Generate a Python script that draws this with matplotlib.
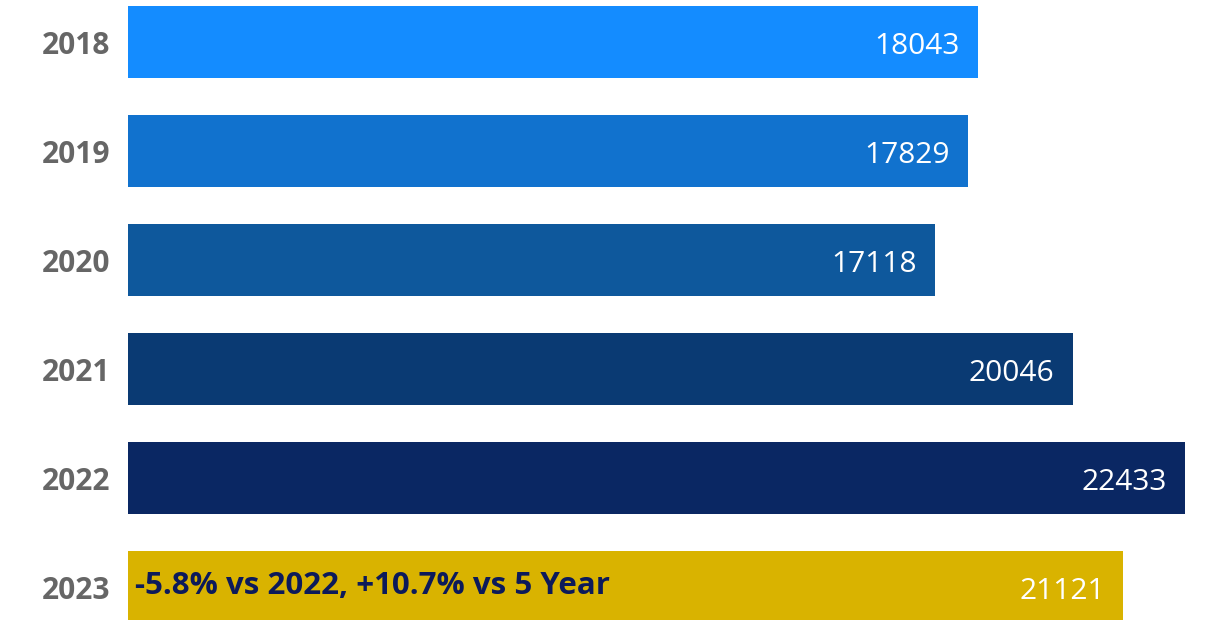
import matplotlib.pyplot as plt

# --- Data ---
years = ['2018', '2019', '2020', '2021', '2022', '2023']
counts = [18043, 17829, 17118, 20046, 22433, 21121]
bar_colors = ['#148CFF', '#1172CE', '#0E589C', '#0A3A73', '#0A2763', '#D9B300']
note_2023 = '-5.8% vs 2022, +10.7% vs 5 Year'

plt.rcParams['font.family'] = ['Open Sans', 'DejaVu Sans']

fig = plt.figure(figsize=(12.09, 6.2), dpi=100)
# axes spans full height; x from px 128 to 1185 (the longest bar)
ax = fig.add_axes([128 / 1209, 0, 1057 / 1209, 1])

pos = list(range(len(years)))
ax.barh(pos, counts, height=0.66, color=bar_colors)
ax.set_xlim(0, max(counts))
ax.set_ylim((620 - 42) / 109, -42 / 109)

# value labels inside the bar end
for p, v in zip(pos, counts):
    ax.annotate(str(v), xy=(v, p), xytext=(-13, -3), textcoords='offset points',
                ha='right', va='center', color='white', fontsize=21.5)

# year labels on the left
for p, y in zip(pos, years):
    ax.annotate(y, xy=(0, p), xytext=(-13, -3), textcoords='offset points',
                ha='right', va='center', color='#666666', fontsize=21.5,
                fontweight='bold', annotation_clip=False)

# callout on the 2023 bar
ax.annotate(note_2023, xy=(0, pos[-1]), xytext=(5, 1), textcoords='offset points',
            ha='left', va='center', color='#0C1A5A', fontsize=22.5, fontweight='bold')

ax.axis('off')
fig.savefig('out.png', dpi=100)
